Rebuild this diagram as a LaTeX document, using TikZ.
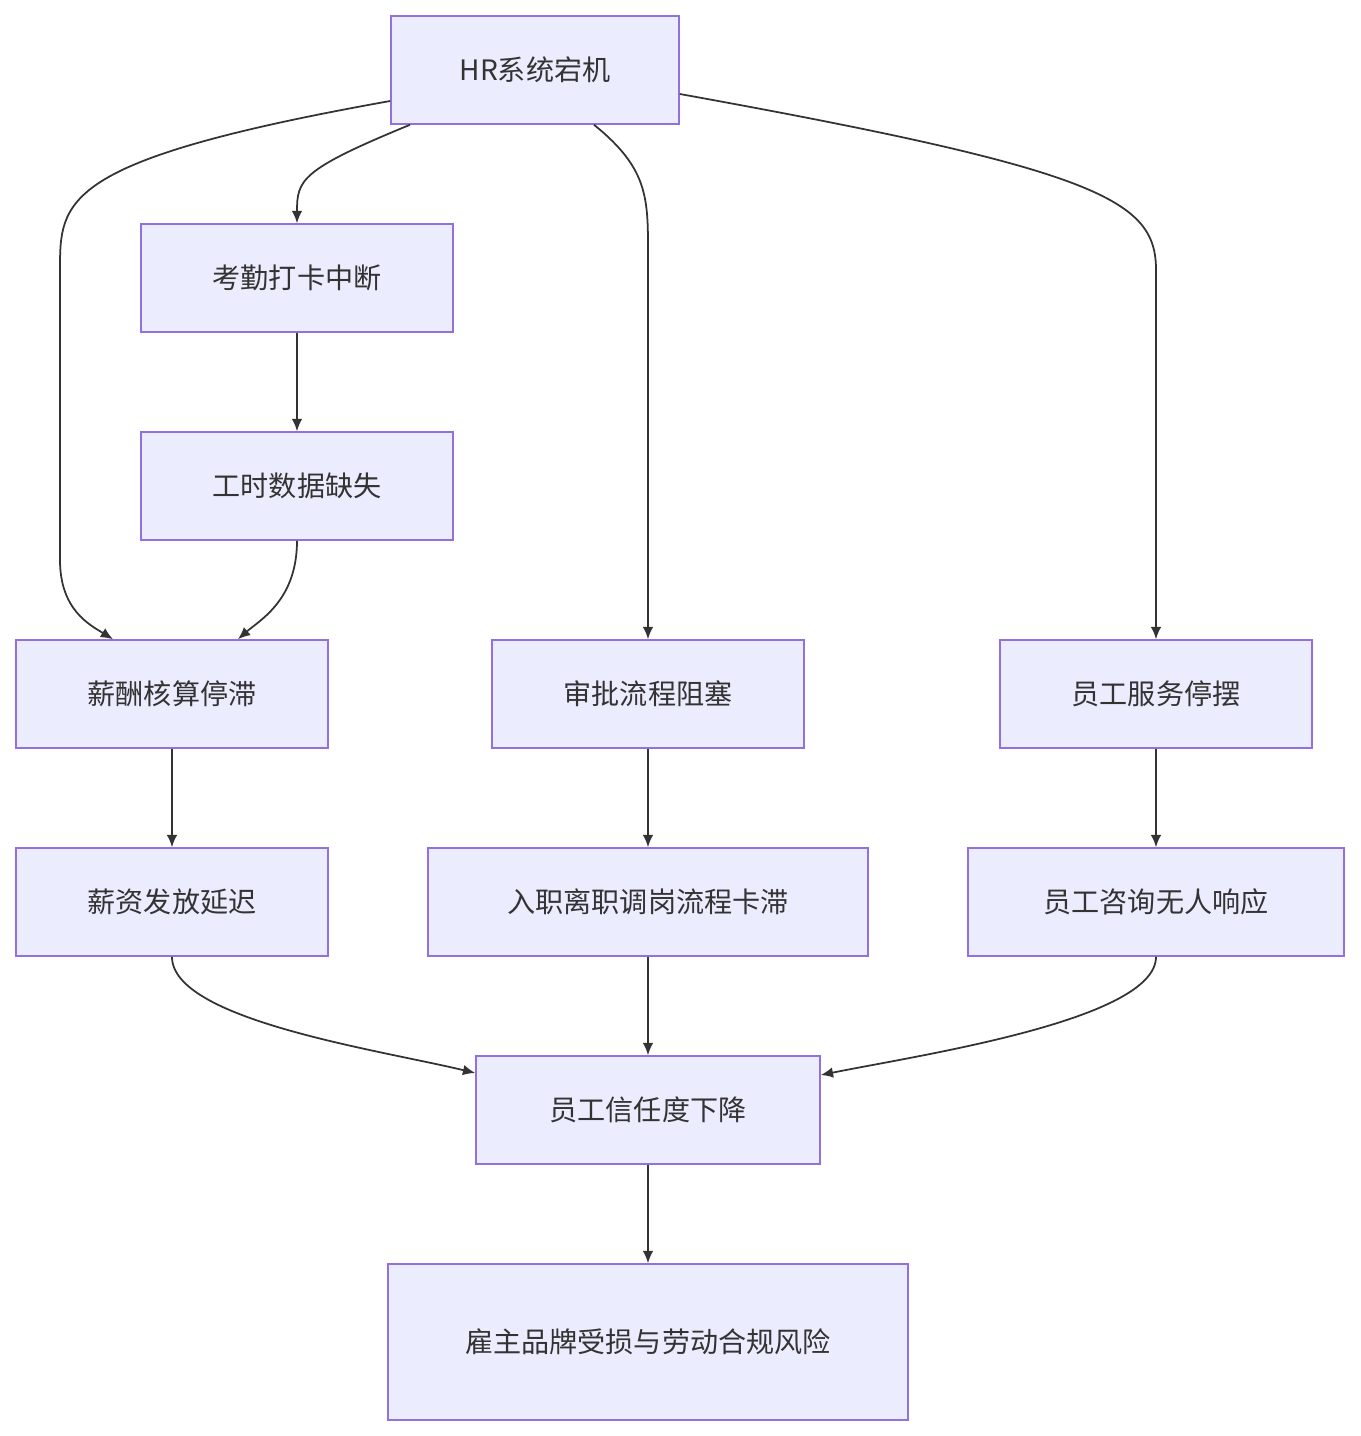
\documentclass[tikz,border=0pt]{standalone}
\usepackage{fontspec}
\setmainfont{Noto Sans CJK SC}
\usetikzlibrary{arrows.meta}
\definecolor{boxfill}{HTML}{ECECFF}
\definecolor{boxline}{HTML}{9370DB}
\definecolor{arrowline}{HTML}{333333}
\tikzset{
  box/.style={rectangle, draw=boxline, fill=boxfill, line width=0.9pt, text centered,
    minimum height=2.16cm, text=arrowline, font=\fontsize{16}{26}\selectfont},
  flow/.style={draw=arrowline, line width=1pt, -{Latex[length=7pt,width=6pt]}}
}
\begin{document}
\begin{tikzpicture}[x=0.02cm, y=-0.02cm]
		
		\useasboundingbox (0,0) rectangle (1360,1436);
		
		%Boxes
		\node (hr) at (535,70) [box, minimum width=5.76cm] {HR系统宕机};
		\node (attend) at (297,278) [box, minimum width=6.24cm] {考勤打卡中断};
		\node (hours) at (297,486) [box, minimum width=6.24cm] {工时数据缺失};
		\node (salary) at (172,694) [box, minimum width=6.24cm] {薪酬核算停滞};
		\node (approve) at (648,694) [box, minimum width=6.24cm] {审批流程阻塞};
		\node (service) at (1156,694) [box, minimum width=6.24cm] {员工服务停摆};
		\node (pay) at (172,902) [box, minimum width=6.24cm] {薪资发放延迟};
		\node (onboard) at (648,902) [box, minimum width=8.8cm] {入职离职调岗流程卡滞};
		\node (consult) at (1156,902) [box, minimum width=7.52cm] {员工咨询无人响应};
		\node (trust) at (648,1110) [box, minimum width=6.88cm] {员工信任度下降};
		\node (brand) at (648,1342) [box, minimum width=10.4cm, minimum height=3.12cm,
		text width=8.2cm] {雇主品牌受损与劳动合规风险};
		
		%Arrows
		\draw[flow] ([yshift=-0.62cm]hr.west) .. controls (60,160) and (60,200) .. (60,270)
		-- (60,560) .. controls (60,610) and (90,625) .. ([xshift=-1.18cm]salary.north);
		\draw[flow] ([xshift=-2.5cm]hr.south) .. controls (300,170) and (297,180) .. (attend.north);
		\draw[flow] ([xshift=1.18cm]hr.south) .. controls (650,170) and (648,200) .. (648,260)
		-- (approve.north);
		\draw[flow] ([yshift=-0.48cm]hr.east) .. controls (1100,170) and (1156,200) .. (1156,270)
		-- (service.north);
		\draw[flow] (attend) -- (hours);
		\draw[flow] (hours.south) .. controls (297,600) and (260,620) .. ([xshift=1.32cm]salary.north);
		\draw[flow] (salary) -- (pay);
		\draw[flow] (approve) -- (onboard);
		\draw[flow] (service) -- (consult);
		\draw[flow] (pay.south) .. controls (172,1020) and (380,1050) .. ([yshift=0.74cm]trust.west);
		\draw[flow] (onboard) -- (trust);
		\draw[flow] (consult.south) .. controls (1156,1020) and (920,1055) .. ([yshift=0.7cm]trust.east);
		\draw[flow] (trust) -- (brand);
		
\end{tikzpicture}
\end{document}
